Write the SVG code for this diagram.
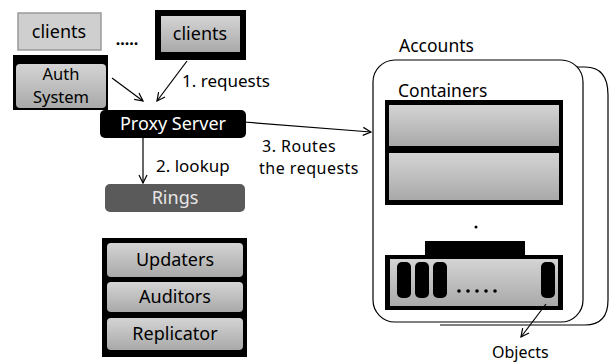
<svg xmlns="http://www.w3.org/2000/svg" width="609" height="364" viewBox="0 0 609 364">
<style>
text{font-family:"Noto Sans","Open Sans","DejaVu Sans",sans-serif;font-size:17px;fill:#000}
.c{text-anchor:middle}
.b{font-size:18px}
.ln{stroke:#000;stroke-width:1.2;fill:none}
</style>
<defs>
<marker id="a" markerWidth="10" markerHeight="10" refX="9" refY="5" orient="auto" markerUnits="userSpaceOnUse">
<path d="M1,1 L9,5 L1,9" fill="none" stroke="#000" stroke-width="1.2"/>
</marker>
<linearGradient id="gg" x1="0" y1="0" x2="0" y2="1">
<stop offset="0" stop-color="#d4d4d4"/><stop offset="1" stop-color="#a9a9a9"/>
</linearGradient>
</defs>
<rect width="609" height="364" fill="#fff"/>

<g id="clients1">
<rect x="18" y="13" width="83" height="37" fill="#cfcfcf" stroke="#9a9a9a" stroke-width="1.5"/>
<text x="59" y="38" class="c b">clients</text>
</g>
<text x="127" y="45" class="c" style="font-size:16px;font-weight:bold">.....</text>
<g id="clients2">
<rect x="155" y="10" width="91" height="50" fill="#000"/>
<rect x="161" y="16" width="79" height="36" fill="url(#gg)"/>
<text x="200" y="40" class="c b">clients</text>
</g>
<g id="auth">
<rect x="13" y="55" width="95" height="55" fill="#000"/>
<rect x="16" y="64" width="90" height="44" rx="4" fill="url(#gg)"/>
<text x="61" y="80" class="c" style="font-size:16.5px">Auth</text>
<text x="61" y="103" class="c" style="font-size:16.5px">System</text>
</g>
<g id="proxy">
<rect x="100" y="110" width="146" height="28" rx="5" fill="#000"/>
<text x="173" y="130" class="c b" style="fill:#fff">Proxy Server</text>
</g>
<g id="rings">
<rect x="105" y="184" width="140" height="28" rx="5" fill="#5a5a5a"/>
<text x="175" y="204" class="c b" style="fill:#e6e6e6">Rings</text>
</g>
<g id="services">
<rect x="102" y="238" width="145" height="119" fill="#000"/>
<rect x="107" y="243" width="136" height="34" rx="4" fill="url(#gg)"/>
<text x="175" y="266" class="c b">Updaters</text>
<rect x="107" y="282" width="136" height="30" rx="4" fill="url(#gg)"/>
<text x="175" y="303" class="c b">Auditors</text>
<rect x="107" y="318" width="136" height="32" rx="4" fill="url(#gg)"/>
<text x="175" y="340" class="c b">Replicator</text>
</g>
<g id="accounts">
<path d="M560,67 L585,67 Q608,67 608,95 L608,300 Q608,325 585,325 L440,325" class="ln"/>
<rect x="373" y="60" width="210" height="262" rx="22" fill="#fff" stroke="#000" stroke-width="1.2"/>
<text x="399" y="52" style="font-size:17.5px">Accounts</text>
<text x="398" y="97" style="font-size:17.5px">Containers</text>
</g>
<g id="containers">
<rect x="385" y="100" width="178" height="105" fill="#000"/>
<rect x="389" y="105" width="170" height="41" fill="url(#gg)"/>
<rect x="389" y="153" width="170" height="47" fill="url(#gg)"/>
<circle cx="476" cy="227" r="1.5" fill="#000"/>
</g>
<g id="objects">
<rect x="425" y="241" width="100" height="16" fill="#000"/>
<rect x="385" y="255" width="178" height="55" fill="#000"/>
<rect x="390" y="259" width="168" height="47" fill="url(#gg)"/>
<rect x="397" y="262" width="14" height="36" rx="5" fill="#000"/>
<rect x="415" y="262" width="14" height="36" rx="5" fill="#000"/>
<rect x="433" y="262" width="14" height="36" rx="5" fill="#000"/>
<rect x="541" y="262" width="14" height="36" rx="5" fill="#000"/>
<g fill="#000"><circle cx="459" cy="291" r="1.8"/><circle cx="468" cy="291" r="1.8"/><circle cx="477" cy="291" r="1.8"/><circle cx="486" cy="291" r="1.8"/><circle cx="495" cy="291" r="1.8"/></g>
<text x="492" y="358" style="font-size:16px">Objects</text>
</g>
<g id="connectors">
<line x1="112" y1="78" x2="143" y2="101" class="ln" marker-end="url(#a)"/>
<line x1="187" y1="61" x2="157" y2="101" class="ln" marker-end="url(#a)"/>
<line x1="143" y1="138" x2="143" y2="183" class="ln" marker-end="url(#a)"/>
<line x1="244" y1="122" x2="371" y2="132" class="ln" marker-end="url(#a)"/>
<line x1="546" y1="304" x2="521" y2="337" class="ln" marker-end="url(#a)"/>
<text x="182" y="87">1. requests</text>
<text x="156" y="172">2. lookup</text>
<text x="262" y="152" style="font-size:16px;letter-spacing:0.5px">3. Routes</text>
<text x="259" y="174" style="font-size:16px;letter-spacing:0.5px">the requests</text>
</g>
</svg>
